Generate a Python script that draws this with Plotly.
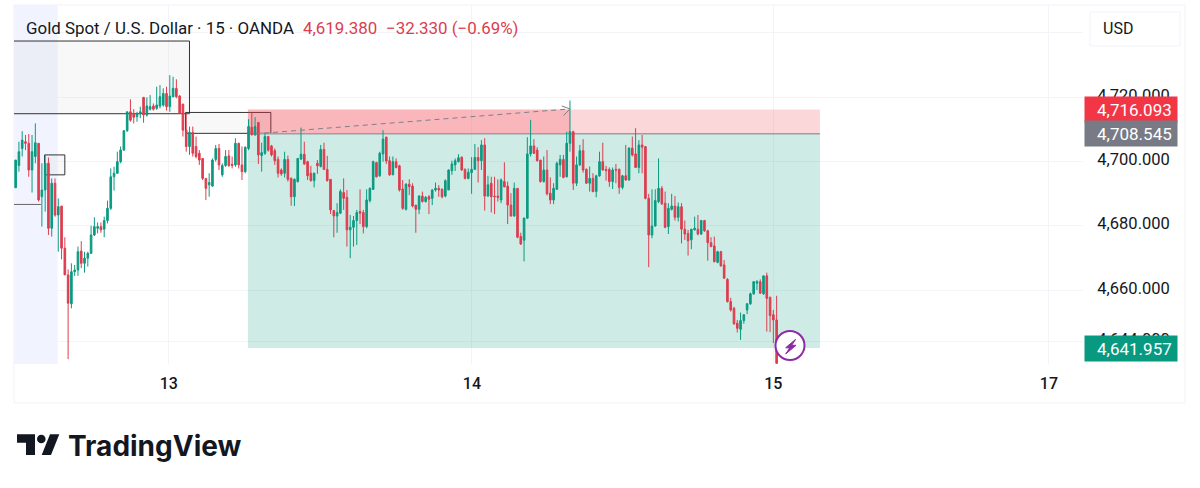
#!/usr/bin/python
# XAUUSD 15m snapshot, TradingView look
import plotly.graph_objects as go

# Candles (one value per bar)
opens = [
    4691.8, 4698.7, 4704.0, 4706.1, 4705.6, 4697.3, 4701.5, 4705.6, 4689.0, 4691.1,
    4699.4, 4679.2, 4693.2, 4683.3, 4686.1, 4673.0, 4664.7, 4655.7, 4665.7, 4666.2,
    4672.1, 4668.3, 4669.9, 4671.4, 4677.1, 4679.2, 4679.7, 4678.9, 4681.6, 4685.4,
    4695.2, 4696.3, 4699.9, 4703.5, 4709.5, 4715.4, 4714.9, 4713.9, 4714.9, 4719.9,
    4714.4, 4716.2, 4717.2, 4716.5, 4717.2, 4717.5, 4721.1, 4717.0, 4720.1, 4722.7,
    4720.3, 4717.8, 4709.7, 4704.6, 4709.0, 4704.6, 4702.5, 4700.9, 4694.7, 4692.7,
    4692.3, 4700.6, 4704.0, 4695.8, 4698.7, 4701.7, 4699.1, 4698.9, 4705.6, 4698.9,
    4696.8, 4704.0, 4710.6, 4708.2, 4712.1, 4701.8, 4702.5, 4707.7, 4704.8, 4703.3,
    4700.6, 4697.3, 4696.3, 4700.6, 4694.7, 4689.0, 4693.7, 4700.7, 4702.2, 4699.9,
    4696.3, 4694.0, 4699.4, 4698.4, 4703.7, 4697.5, 4694.4, 4684.7, 4683.0, 4683.9,
    4690.3, 4688.8, 4678.7, 4679.5, 4681.6, 4684.4, 4684.1, 4679.7, 4687.8, 4691.3,
    4699.6, 4695.5, 4702.3, 4707.5, 4700.2, 4695.8, 4699.9, 4698.6, 4691.4, 4685.1,
    4692.9, 4692.3, 4686.4, 4685.1, 4689.2, 4687.5, 4689.0, 4688.5, 4691.1, 4691.6,
    4691.3, 4689.2, 4691.1, 4697.1, 4698.9, 4699.9, 4701.3, 4697.5, 4694.7, 4696.5,
    4697.5, 4701.2, 4700.2, 4705.1, 4689.2, 4693.2, 4689.2, 4689.2, 4688.0, 4693.7,
    4692.3, 4686.4, 4683.0, 4691.6, 4676.6, 4675.5, 4682.3, 4702.3, 4704.8, 4703.5,
    4700.4, 4693.7, 4697.3, 4690.1, 4688.0, 4691.3, 4698.9, 4700.6, 4695.2, 4705.6,
    4709.2, 4693.2, 4698.9, 4703.3, 4697.5, 4693.2, 4694.7, 4690.6, 4695.5, 4699.9,
    4697.5, 4697.5, 4693.7, 4697.5, 4697.5, 4691.9, 4695.5, 4694.2, 4704.1, 4702.3,
    4698.1, 4705.1, 4704.6, 4688.5, 4677.1, 4679.9, 4687.5, 4691.6, 4687.0, 4679.7,
    4685.1, 4686.1, 4682.6, 4685.9, 4678.9, 4677.6, 4675.6, 4678.7, 4678.9, 4677.4,
    4681.6, 4678.4, 4674.7, 4673.7, 4668.6, 4671.9, 4667.8, 4663.3, 4656.4, 4654.3,
    4649.7, 4647.8, 4650.5, 4653.8, 4655.7, 4658.8, 4662.1, 4662.6, 4658.8, 4664.4,
    4657.7, 4652.3, 4650.7,
]
highs = [
    4700.4, 4706.1, 4709.4, 4708.2, 4708.5, 4708.2, 4711.8, 4705.6, 4699.4, 4702.0,
    4701.2, 4694.7, 4694.7, 4688.5, 4686.1, 4676.4, 4666.4, 4668.3, 4667.8, 4673.5,
    4675.2, 4671.9, 4671.9, 4680.0, 4682.6, 4681.0, 4681.0, 4682.8, 4687.8, 4697.8,
    4698.3, 4703.0, 4704.6, 4709.7, 4715.4, 4719.3, 4716.2, 4715.4, 4717.0, 4719.9,
    4719.9, 4720.6, 4718.0, 4723.2, 4723.7, 4722.7, 4723.2, 4726.8, 4726.3, 4725.5,
    4720.6, 4717.8, 4714.9, 4710.8, 4710.8, 4707.7, 4703.5, 4700.9, 4694.7, 4696.3,
    4700.9, 4705.1, 4705.4, 4699.4, 4703.5, 4703.5, 4701.5, 4707.2, 4705.8, 4704.6,
    4704.6, 4713.1, 4715.1, 4713.7, 4712.1, 4705.8, 4708.7, 4707.9, 4705.1, 4704.0,
    4701.5, 4697.8, 4703.0, 4701.8, 4695.0, 4694.7, 4700.9, 4710.5, 4706.1, 4700.2,
    4698.6, 4696.5, 4700.4, 4705.1, 4705.8, 4701.7, 4694.4, 4684.9, 4687.0, 4691.3,
    4694.7, 4691.1, 4683.3, 4683.0, 4684.9, 4691.3, 4684.9, 4691.3, 4691.9, 4700.2,
    4699.9, 4703.0, 4709.7, 4707.7, 4701.5, 4701.5, 4700.9, 4698.9, 4694.2, 4693.2,
    4694.4, 4693.2, 4686.4, 4689.5, 4690.6, 4689.2, 4689.5, 4691.3, 4693.4, 4692.6,
    4691.6, 4694.4, 4697.5, 4700.2, 4700.9, 4702.2, 4701.5, 4697.8, 4697.8, 4701.3,
    4705.4, 4704.4, 4706.6, 4707.2, 4695.5, 4695.2, 4695.2, 4694.4, 4694.7, 4699.7,
    4693.7, 4690.1, 4693.4, 4691.6, 4677.8, 4682.6, 4707.5, 4712.9, 4706.9, 4704.4,
    4700.4, 4701.5, 4703.5, 4695.0, 4693.2, 4699.9, 4702.0, 4702.0, 4709.2, 4718.9,
    4709.5, 4701.5, 4705.1, 4706.9, 4697.8, 4698.4, 4696.3, 4695.8, 4703.0, 4705.8,
    4698.6, 4698.1, 4698.1, 4699.2, 4697.8, 4695.8, 4705.1, 4704.4, 4707.7, 4710.3,
    4706.6, 4708.2, 4704.6, 4689.9, 4691.3, 4691.3, 4700.9, 4692.3, 4690.6, 4687.0,
    4689.9, 4689.2, 4687.2, 4687.0, 4681.6, 4678.7, 4678.9, 4682.8, 4683.3, 4681.8,
    4681.8, 4678.7, 4676.4, 4676.6, 4672.2, 4672.2, 4669.3, 4663.7, 4657.6, 4654.8,
    4650.7, 4653.0, 4652.5, 4655.9, 4659.2, 4662.8, 4663.1, 4663.3, 4664.4, 4665.4,
    4658.0, 4653.8, 4658.2,
]
lows = [
    4691.8, 4696.8, 4701.5, 4703.5, 4695.2, 4690.3, 4699.4, 4687.5, 4679.7, 4684.4,
    4677.1, 4676.6, 4682.8, 4671.9, 4669.5, 4664.7, 4638.5, 4654.3, 4664.4, 4664.4,
    4666.8, 4665.4, 4667.3, 4671.2, 4676.8, 4677.6, 4677.8, 4676.4, 4680.7, 4684.9,
    4690.9, 4696.1, 4699.4, 4703.3, 4709.2, 4712.3, 4711.8, 4712.3, 4713.4, 4712.0,
    4713.9, 4715.8, 4715.8, 4716.0, 4716.5, 4717.0, 4715.8, 4715.4, 4719.9, 4719.6,
    4714.7, 4707.7, 4703.0, 4702.0, 4701.5, 4700.9, 4698.9, 4694.2, 4688.0, 4689.0,
    4692.1, 4699.9, 4697.3, 4695.2, 4698.3, 4698.3, 4697.8, 4698.3, 4697.8, 4694.2,
    4696.3, 4703.5, 4708.2, 4708.0, 4699.2, 4696.8, 4702.0, 4703.0, 4701.5, 4698.9,
    4695.0, 4695.5, 4695.0, 4693.7, 4686.2, 4686.1, 4693.4, 4700.4, 4698.9, 4694.2,
    4693.7, 4691.9, 4696.1, 4698.1, 4697.3, 4693.7, 4683.6, 4676.4, 4677.8, 4683.6,
    4684.9, 4673.5, 4669.9, 4673.5, 4674.0, 4680.5, 4677.6, 4679.2, 4687.2, 4691.1,
    4695.0, 4695.2, 4699.9, 4699.2, 4695.5, 4695.8, 4697.8, 4690.6, 4684.9, 4684.7,
    4689.5, 4685.7, 4677.8, 4683.6, 4687.2, 4687.2, 4683.6, 4686.4, 4690.6, 4689.0,
    4688.5, 4688.8, 4691.1, 4695.8, 4697.0, 4699.6, 4697.1, 4694.4, 4694.4, 4689.9,
    4697.5, 4693.4, 4697.3, 4684.7, 4689.0, 4684.1, 4683.6, 4687.5, 4687.0, 4691.9,
    4680.5, 4682.8, 4682.8, 4676.1, 4674.0, 4668.9, 4682.3, 4701.5, 4702.3, 4699.9,
    4693.4, 4693.4, 4689.4, 4686.7, 4686.7, 4691.1, 4695.2, 4694.7, 4695.0, 4703.0,
    4691.1, 4692.3, 4698.6, 4696.5, 4693.0, 4690.6, 4690.4, 4688.8, 4695.2, 4697.1,
    4694.0, 4692.1, 4691.4, 4693.2, 4689.9, 4691.3, 4694.0, 4694.0, 4701.5, 4697.9,
    4696.3, 4696.3, 4688.2, 4667.1, 4676.1, 4679.7, 4687.0, 4686.4, 4679.2, 4677.4,
    4684.7, 4681.6, 4681.3, 4674.5, 4675.6, 4670.7, 4672.7, 4678.5, 4677.0, 4677.1,
    4678.1, 4669.1, 4673.3, 4668.6, 4668.3, 4667.3, 4663.4, 4656.1, 4653.3, 4649.2,
    4646.8, 4644.5, 4649.5, 4652.5, 4655.4, 4658.5, 4660.0, 4658.8, 4658.5, 4647.1,
    4646.9, 4643.5, 4637.2,
]
closes = [
    4700.4, 4703.0, 4706.6, 4705.6, 4697.3, 4703.0, 4705.8, 4688.0, 4691.1, 4699.4,
    4679.2, 4693.2, 4683.3, 4685.9, 4673.0, 4664.7, 4655.9, 4665.7, 4666.2, 4671.9,
    4668.3, 4669.9, 4671.4, 4677.1, 4679.7, 4679.7, 4678.7, 4681.6, 4685.4, 4695.2,
    4696.3, 4699.9, 4703.5, 4709.5, 4715.4, 4712.8, 4713.7, 4714.9, 4715.4, 4714.4,
    4717.2, 4717.0, 4716.2, 4717.5, 4720.1, 4721.1, 4717.0, 4720.3, 4722.7, 4720.1,
    4714.9, 4709.7, 4704.6, 4709.0, 4702.5, 4701.5, 4700.4, 4694.7, 4691.6, 4693.4,
    4700.4, 4704.0, 4698.9, 4698.7, 4701.5, 4698.7, 4698.7, 4705.6, 4698.9, 4696.8,
    4704.4, 4710.8, 4708.2, 4710.8, 4702.0, 4702.7, 4707.7, 4703.5, 4702.0, 4700.2,
    4696.3, 4696.1, 4700.6, 4694.4, 4689.0, 4694.4, 4700.9, 4702.2, 4699.2, 4695.5,
    4694.0, 4696.3, 4698.6, 4703.7, 4697.5, 4694.0, 4684.9, 4683.0, 4684.1, 4690.6,
    4688.5, 4678.7, 4679.5, 4681.6, 4684.1, 4683.9, 4679.7, 4688.0, 4691.6, 4699.9,
    4695.2, 4702.5, 4706.9, 4700.1, 4695.8, 4699.9, 4698.1, 4691.1, 4685.4, 4692.9,
    4692.1, 4686.1, 4685.1, 4689.2, 4687.5, 4688.8, 4688.2, 4691.1, 4691.6, 4691.1,
    4689.0, 4694.0, 4697.3, 4699.2, 4700.2, 4701.1, 4697.3, 4694.7, 4696.6, 4697.5,
    4701.2, 4700.2, 4705.1, 4689.2, 4692.7, 4689.0, 4689.0, 4688.8, 4694.2, 4692.1,
    4686.4, 4683.0, 4691.6, 4676.4, 4674.3, 4682.3, 4702.3, 4704.8, 4702.5, 4700.2,
    4693.7, 4697.3, 4689.9, 4688.0, 4691.6, 4699.4, 4700.6, 4695.0, 4705.6, 4709.2,
    4693.2, 4698.9, 4703.3, 4697.3, 4693.2, 4694.7, 4690.6, 4695.5, 4699.9, 4697.3,
    4697.1, 4693.7, 4697.3, 4697.3, 4691.9, 4695.5, 4694.2, 4704.1, 4702.0, 4698.1,
    4705.1, 4704.4, 4688.5, 4677.1, 4679.9, 4687.8, 4691.6, 4686.8, 4679.5, 4685.4,
    4686.1, 4682.6, 4685.9, 4678.9, 4677.4, 4675.3, 4678.9, 4679.2, 4677.4, 4681.6,
    4678.4, 4674.7, 4673.5, 4668.8, 4671.9, 4667.5, 4663.7, 4656.4, 4653.8, 4649.5,
    4648.1, 4650.5, 4652.3, 4655.7, 4658.8, 4662.6, 4662.6, 4659.0, 4664.4, 4657.4,
    4652.1, 4650.7, 4637.2,
]
bars = list(range(len(opens)))

# Axis ticks
day_ticks = [46.7, 139.1, 231, 315]
day_labels = ["13", "14", "15", "17"]
price_ticks = [4740, 4720, 4700, 4680, 4660, 4644]
price_labels = ["4,740.000", "4,720.000", "4,700.000", "4,680.000", "4,660.000", "4,644.000"]

# Position tool levels
target_price = 4716.093
entry_price = 4708.545
stop_price = 4641.957

GREEN = "#0b9a80"
RED = "#dd3d4e"
INK = "#131722"
BORDER = "#f0f3fa"

# page pixels -> paper coords (plot box is x 14..1083, y 5..364)
def px(x):
    return (x - 14) / 1069


def py(y):
    return (364 - y) / 359


def poly(points):
    return "M " + " L ".join(f"{px(x)} {py(y)}" for x, y in points) + " Z"


fig = go.Figure(go.Candlestick(
    x=bars, open=opens, high=highs, low=lows, close=closes,
    increasing=dict(line=dict(color=GREEN, width=1), fillcolor=GREEN),
    decreasing=dict(line=dict(color=RED, width=1), fillcolor=RED),
    whiskerwidth=0, showlegend=False,
))

shapes = []


def box(x0, x1, y0, y1, fill="rgba(0,0,0,0)", line=None, layer="between", width=1):
    shapes.append(dict(type="rect", xref="x", yref="y", x0=x0, x1=x1, y0=y0, y1=y1,
                       fillcolor=fill, layer=layer,
                       line=dict(color=line or "rgba(0,0,0,0)", width=width)))


# session highlight on the left
box(-0.5, 12.8, 4637, 4748.6, fill="#f1f4fe")
# order block boxes (left edge of the first runs past the plot, so it is clipped)
box(-3, 53, 4714.8, 4737.4, fill="rgba(200,200,200,0.13)", line="#333333")
box(8.8, 15, 4695.8, 4702, fill="rgba(200,200,200,0.13)", line="#333333")
box(51.8, 77.8, 4708.7, 4715.2, fill="rgba(200,200,200,0.13)", line="#333333")
shapes.append(dict(type="line", xref="x", yref="y", x0=-0.5, x1=7.7, y0=4686.6, y1=4686.6,
                   line=dict(color="#666666", width=1)))
# long position tool
box(70.8, 245.2, entry_price, target_price, fill="rgba(242,54,69,0.2)")
box(70.8, 169, entry_price, target_price, fill="rgba(242,54,69,0.2)")
box(70.8, 245.2, stop_price, entry_price, fill="rgba(8,153,129,0.2)")
shapes.append(dict(type="line", xref="x", yref="y", x0=70.8, x1=245.2,
                   y0=entry_price, y1=entry_price, layer="between",
                   line=dict(color="#9a9ea6", width=1.5)))
shapes.append(dict(type="line", xref="x", yref="y", x0=73, x1=169, y0=entry_price, y1=4716.3,
                   layer="above", line=dict(color="#7d808a", width=1, dash="5px,4px")))
shapes.append(dict(type="line", xref="x", yref="y", x0=166.5, x1=169, y0=4717.2, y1=4716.3,
                   layer="above", line=dict(color="#7d808a", width=1)))
shapes.append(dict(type="line", xref="x", yref="y", x0=167, x1=169, y0=4714.2, y1=4716.3,
                   layer="above", line=dict(color="#7d808a", width=1)))

# outer frame
shapes.append(dict(type="rect", xref="paper", yref="paper", x0=px(14), x1=px(1185), y0=py(403), y1=py(5),
                   layer="below", line=dict(color=BORDER, width=1)))
# USD button, covers the top price label
shapes.append(dict(type="rect", xref="paper", yref="paper", x0=px(1090), x1=px(1180), y0=py(46), y1=py(12),
                   layer="above", fillcolor="white", line=dict(color=BORDER, width=1)))
# alert badge
shapes.append(dict(type="circle", xref="paper", yref="paper", x0=px(775.5), x1=px(804.5), y0=py(360), y1=py(331),
                   layer="above", fillcolor="white", line=dict(color="#8e2aa6", width=2)))
shapes.append(dict(type="path", xref="paper", yref="paper", layer="above", fillcolor="#8e2aa6",
                   line=dict(color="#8e2aa6", width=1),
                   path=poly([(795.7, 339.3), (785.7, 347.7), (789.7, 348), (785.7, 354), (796, 345.3), (791.7, 345.3)])))
# TradingView mark
shapes.append(dict(type="path", xref="paper", yref="paper", fillcolor=INK, line=dict(width=0),
                   path=poly([(17, 434.3), (35, 434.3), (35, 455), (26, 455), (26, 442.7), (17, 442.7)])))
shapes.append(dict(type="path", xref="paper", yref="paper", fillcolor=INK, line=dict(width=0),
                   path=poly([(50, 434.3), (59.3, 434.3), (51, 455), (41.7, 455)])))
shapes.append(dict(type="circle", xref="paper", yref="paper", x0=px(37), x1=px(45.6), y0=py(443.3), y1=py(434.7),
                   fillcolor=INK, line=dict(width=0)))


def label(x, y, text, color=INK, size=16, family="Roboto, sans-serif", anchor="left"):
    return dict(xref="paper", yref="paper", x=px(x), y=py(y), text=text, showarrow=False,
                xanchor=anchor, yanchor="middle", font=dict(color=color, size=size, family=family))


def price_tag(value, color):
    # trailing nbsp keeps the number off the tag's right edge
    return dict(xref="paper", yref="y", x=px(1084), y=value, text=f"{value:,.3f}&nbsp;", showarrow=False,
                xanchor="left", yanchor="middle", align="right", width=90, height=23,
                bgcolor=color, font=dict(color="white", size=17, family="Roboto, sans-serif"))


annotations = [
    label(24, 28, "Gold Spot / U.S. Dollar · 15 · OANDA", size=16.9),
    label(301, 28, "4,619.380", color="#dc3d4e", size=16.9),
    label(384, 28, "−32.330 (−0.69%)", color="#dc3d4e", size=16.9),
    label(1101, 29, "USD", size=16),
    label(66, 446, "TradingView", size=28, family="Inter, sans-serif"),
    price_tag(target_price, "#f23645"),
    price_tag(entry_price, "#787b86"),
    price_tag(stop_price, "#089981"),
]
annotations[4]["font"]["weight"] = 700

fig.update_layout(
    width=1200, height=488, autosize=False,
    margin=dict(l=14, r=117, t=5, b=124, autoexpand=False),
    paper_bgcolor="white", plot_bgcolor="white",
    shapes=shapes, annotations=annotations, showlegend=False,
    font=dict(family="Roboto, sans-serif", color=INK),
)
fig.update_xaxes(
    range=[-0.5, 325.4], rangeslider=dict(visible=False), tickmode="array",
    tickvals=day_ticks, ticktext=day_labels, showgrid=True, gridcolor="#f3f4f8", gridwidth=1,
    zeroline=False, showline=False, ticks="outside", ticklen=5, tickcolor="white",
    tickfont=dict(size=16, color=INK, family="Roboto, sans-serif", weight=500),
)
fig.update_yaxes(
    range=[4637, 4748.6], side="right", tickmode="array",
    tickvals=price_ticks, ticktext=price_labels, showgrid=True, gridcolor="#f3f4f8", gridwidth=1,
    zeroline=False, showline=False, ticks="outside", ticklen=10, tickcolor="white",
    ticklabelshift=-2,
    tickfont=dict(size=16.5, color=INK, family="Roboto, sans-serif"),
)

fig.write_html("out.html", config={"displayModeBar": False},
               post_script="document.body.style.margin='0';")
